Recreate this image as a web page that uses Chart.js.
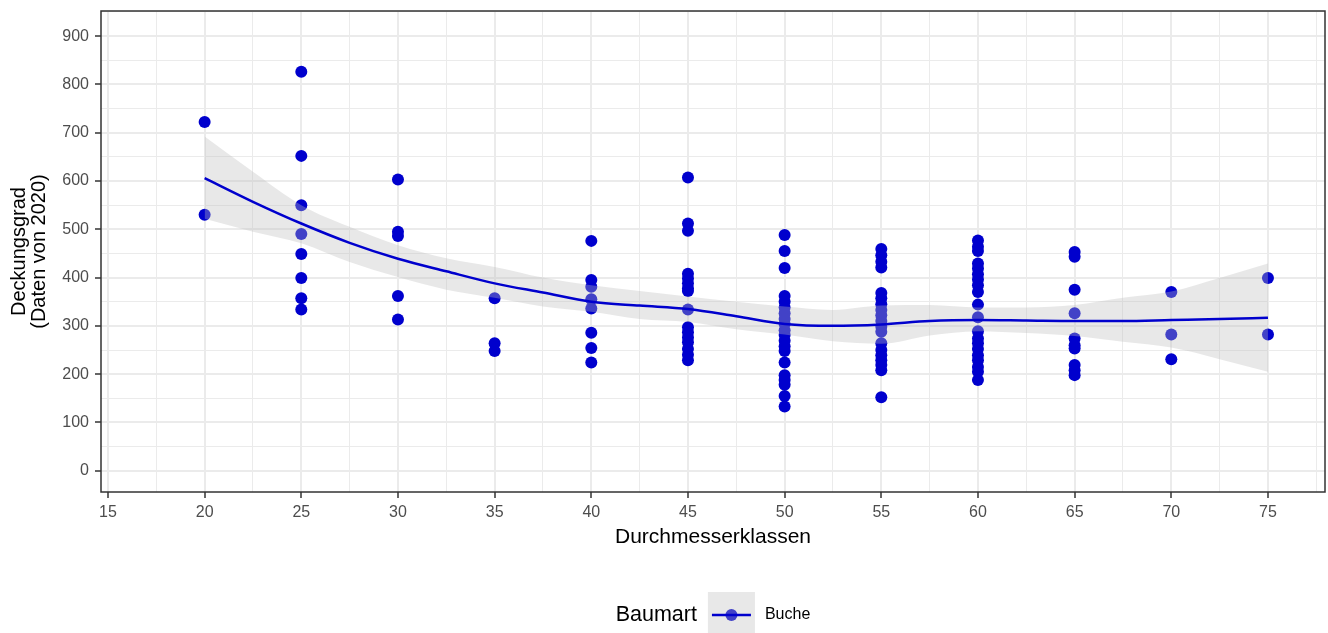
<!DOCTYPE html>
<html>
<head>
<meta charset="utf-8">
<script src="https://cdn.jsdelivr.net/npm/chart.js@4.4.1/dist/chart.umd.min.js"></script>
<style>
  body { margin: 0; background: #fff; }
  #wrap { width: 1328px; height: 633px; }
</style>
</head>
<body>
<div id="wrap"><canvas id="scatter_chart" width="1328" height="633"></canvas></div>
<script>
// Durchmesserklassen and Deckungsgrad per class
var classes = [20, 25, 30, 35, 40, 45, 50, 55, 60, 65, 70, 75];
var cover20 = [722, 530];
var cover25 = [826, 652, 550, 490, 449, 399, 357, 334];
var cover30 = [603, 495, 486, 362, 313];
var cover35 = [357, 264, 248];
var cover40 = [476, 395, 381, 355, 336, 286, 254, 224];
var cover45 = [607, 512, 497, 408, 398, 388, 378, 372, 334, 297, 287, 276, 266, 252, 240, 229];
var cover50 = [488, 455, 420, 362, 350, 338, 326, 314, 304, 291, 281, 269, 258, 248, 224, 198, 188, 178, 155, 133];
var cover55 = [459, 446, 433, 421, 368, 357, 345, 333, 322, 310, 298, 288, 264, 250, 239, 229, 219, 208, 152];
var cover60 = [477, 464, 455, 429, 419, 407, 396, 384, 370, 344, 318, 289, 274, 264, 252, 239, 229, 215, 205, 188];
var cover65 = [453, 443, 375, 326, 274, 260, 253, 219, 208, 198];
var cover70 = [370, 282, 231];
var cover75 = [399, 282];
var coverByClass = [cover20, cover25, cover30, cover35, cover40, cover45, cover50, cover55, cover60, cover65, cover70, cover75];

// loess fit with confidence band
var fitX = [20, 22.5, 25, 27.5, 30, 32.5, 35, 37.5, 40, 42.5, 45, 47.5, 50, 52.5, 55, 57.5, 60, 62.5, 65, 67.5, 70, 72.5, 75];
var fitY = [606, 557, 512, 472, 439, 413, 388, 369, 350, 342, 335, 320, 304, 300, 303, 310, 312, 311, 310, 310, 312, 314, 317];
var fitHi = [692, 619, 550, 505, 467, 440, 422, 400, 384, 372, 361, 350, 340, 333, 342, 343, 338, 338, 343, 358, 371, 399, 429];
var fitLo = [522, 495, 471, 432, 401, 375, 358, 340, 329, 314, 308, 293, 282, 268, 263, 280, 289, 285, 279, 267, 255, 231, 205];

var xTicks = [15, 20, 25, 30, 35, 40, 45, 50, 55, 60, 65, 70, 75];
var yTicks = [0, 100, 200, 300, 400, 500, 600, 700, 800, 900];

var legendTitle = 'Baumart';
var seriesName = 'Buche';

var blue = '#0000CD';
var ribbon = 'rgba(190, 190, 190, 0.35)';
var fontFamily = "'Liberation Sans', Arial, Helvetica, sans-serif";

var points = [];
classes.forEach(function (c, i) {
    coverByClass[i].forEach(function (v) { points.push({ x: c, y: v }); });
});

function withMinor(major, step) {
    var out = [];
    for (var i = 0; i < major.length; i++) {
        out.push({ value: major[i] });
        out.push({ value: major[i] + step / 2 });
    }
    return out;
}

function noPadding(s) {
    s.paddingTop = 0;
    s.paddingBottom = 0;
    s.paddingLeft = 0;
    s.paddingRight = 0;
}

var panelBorder = {
    id: 'panelBorder',
    afterDatasetsDraw: function (chart) {
        var a = chart.chartArea, ctx = chart.ctx;
        ctx.save();
        ctx.strokeStyle = '#333333';
        ctx.lineWidth = 1.5;
        ctx.strokeRect(a.left, a.top, a.right - a.left, a.bottom - a.top);
        ctx.restore();
    }
};

var legendBox = {
    id: 'legendBox',
    afterDraw: function (chart) {
        var ctx = chart.ctx;
        var cx = (chart.chartArea.left + chart.chartArea.right) / 2;
        var cy = chart.height - 18;
        ctx.save();
        ctx.font = '21.5px ' + fontFamily;
        var w1 = ctx.measureText(legendTitle).width;
        ctx.font = '16px ' + fontFamily;
        var w2 = ctx.measureText(seriesName).width;
        var keyW = 47, keyH = 46;
        var total = w1 + 11 + keyW + 10 + w2;
        var x = cx - total / 2;

        ctx.fillStyle = '#000';
        ctx.textBaseline = 'middle';
        ctx.textAlign = 'left';
        ctx.font = '21.5px ' + fontFamily;
        ctx.fillText(legendTitle, x, cy);
        x += w1 + 11;

        ctx.fillStyle = '#fff';
        ctx.fillRect(x, cy - keyH / 2, keyW, keyH);
        ctx.fillStyle = blue;
        ctx.beginPath();
        ctx.arc(x + keyW / 2, cy, 6, 0, Math.PI * 2);
        ctx.fill();
        ctx.fillStyle = ribbon;
        ctx.fillRect(x, cy - keyH / 2, keyW, keyH);
        ctx.strokeStyle = blue;
        ctx.lineWidth = 2.5;
        ctx.beginPath();
        ctx.moveTo(x + 4, cy);
        ctx.lineTo(x + keyW - 4, cy);
        ctx.stroke();
        x += keyW + 10;

        ctx.fillStyle = '#000';
        ctx.font = '16px ' + fontFamily;
        ctx.fillText(seriesName, x, cy);
        ctx.restore();
    }
};

new Chart(document.getElementById('scatter_chart').getContext('2d'), {
    type: 'scatter',
    data: {
        datasets: [{
            label: 'fit',
            type: 'line',
            data: fitX.map(function (x, i) { return { x: x, y: fitY[i] }; }),
            borderColor: blue,
            borderWidth: 2.5,
            pointRadius: 0,
            cubicInterpolationMode: 'monotone',
            fill: false,
            order: 0
        }, {
            label: 'upper',
            type: 'line',
            data: fitX.map(function (x, i) { return { x: x, y: fitHi[i] }; }),
            borderWidth: 0,
            borderColor: 'rgba(0,0,0,0)',
            backgroundColor: ribbon,
            pointRadius: 0,
            cubicInterpolationMode: 'monotone',
            fill: '+1',
            order: 1
        }, {
            label: 'lower',
            type: 'line',
            data: fitX.map(function (x, i) { return { x: x, y: fitLo[i] }; }),
            borderWidth: 0,
            borderColor: 'rgba(0,0,0,0)',
            pointRadius: 0,
            cubicInterpolationMode: 'monotone',
            fill: false,
            order: 2
        }, {
            label: seriesName,
            data: points,
            backgroundColor: blue,
            borderWidth: 0,
            pointRadius: 6,
            order: 3
        }]
    },
    options: {
        responsive: false,
        animation: false,
        devicePixelRatio: 1,
        layout: { autoPadding: false, padding: { left: 0, top: 11, right: 3, bottom: 85 } },
        plugins: {
            legend: { display: false },
            tooltip: { enabled: false }
        },
        scales: {
            x: {
                type: 'linear',
                min: 14.64,
                max: 77.95,
                afterBuildTicks: function (s) { s.ticks = withMinor(xTicks, 5); },
                afterFit: function (s) { s.height = 56; noPadding(s); },
                border: { display: false },
                grid: {
                    color: '#EBEBEB',
                    lineWidth: function (c) { return c.tick && c.tick.value % 5 === 0 ? 2 : 1; },
                    tickColor: function (c) { return c.tick && c.tick.value % 5 === 0 ? '#333333' : 'rgba(0,0,0,0)'; },
                    tickWidth: 1.5,
                    tickLength: 6
                },
                ticks: {
                    autoSkip: false,
                    maxRotation: 0,
                    padding: 5,
                    color: '#4D4D4D',
                    font: { family: fontFamily, size: 16 },
                    callback: function (v) { return v % 5 === 0 ? String(v) : ''; }
                },
                title: {
                    display: true,
                    text: 'Durchmesserklassen',
                    color: '#000',
                    font: { family: fontFamily, size: 21, lineHeight: 1 },
                    padding: { top: 0, bottom: 0 }
                }
            },
            y: {
                type: 'linear',
                min: -44,
                max: 952,
                afterBuildTicks: function (s) { s.ticks = withMinor(yTicks, 100); },
                afterFit: function (s) { s.width = 101; noPadding(s); },
                border: { display: false },
                grid: {
                    color: '#EBEBEB',
                    lineWidth: function (c) { return c.tick && c.tick.value % 100 === 0 ? 2 : 1; },
                    tickColor: function (c) { return c.tick && c.tick.value % 100 === 0 ? '#333333' : 'rgba(0,0,0,0)'; },
                    tickWidth: 1.5,
                    tickLength: 6
                },
                ticks: {
                    autoSkip: false,
                    padding: 6,
                    color: '#4D4D4D',
                    font: { family: fontFamily, size: 16 },
                    callback: function (v) { return v % 100 === 0 ? String(v) : ''; }
                },
                title: {
                    display: true,
                    text: ['Deckungsgrad', '(Daten von 2020)'],
                    color: '#000',
                    font: { family: fontFamily, size: 20, lineHeight: 1 },
                    padding: { top: 9, bottom: 0 }
                }
            }
        }
    },
    plugins: [panelBorder, legendBox]
});
</script>
</body>
</html>
